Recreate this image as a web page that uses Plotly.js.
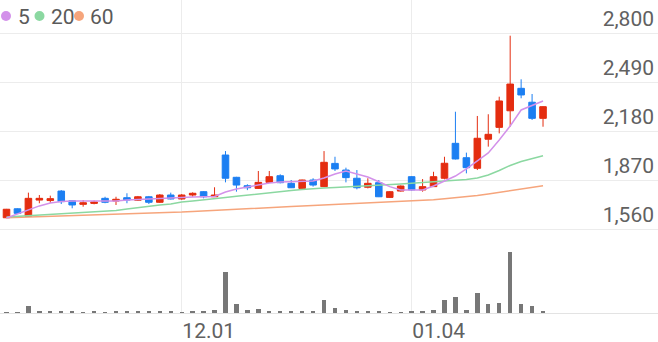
<!DOCTYPE html>
<html>
<head>
<meta charset="utf-8">
<script src="https://cdn.plot.ly/plotly-3.0.1.min.js"></script>
<style>
html,body{margin:0;padding:0;background:#fff;}
#chart{width:658px;height:342px;}
</style>
</head>
<body>
<div id="chart"></div>
<script>
// ---- data ----
const openP  = [1631,1688,1640,1743,1740,1800,1739,1716,1722,1754,1737,1758,1742,1764,1729,1775,1750,1775,1796,1764,
                2028,1887,1834,1817,1855,1897,1849,1817,1870,1828,1975,1933,1881,1824,1853,1760,1800,1891,1807,1828,
                1881,2102,2011,1944,2128,2203,2308,2450,2362,2260];
const highP  = [1687,1691,1790,1775,1771,1806,1743,1743,1740,1764,1764,1786,1769,1769,1781,1790,1781,1792,1800,1824,
                2053,1890,1843,1927,1927,1906,1870,1872,1881,2053,2017,1948,1933,1881,1870,1800,1835,1895,1876,1922,
                2017,2302,2043,2275,2286,2397,2783,2507,2414,2337];
const lowP   = [1629,1656,1638,1723,1725,1718,1691,1701,1716,1723,1712,1723,1738,1718,1725,1747,1745,1764,1754,1764,
                1855,1796,1806,1813,1851,1849,1819,1811,1828,1826,1927,1855,1811,1817,1762,1756,1797,1801,1796,1826,
                1874,2000,1912,1933,2081,2165,2207,2387,2250,2207];
const closeP = [1685,1659,1754,1754,1752,1733,1712,1726,1731,1729,1748,1743,1764,1729,1775,1750,1775,1786,1764,1775,
                1881,1838,1821,1855,1891,1853,1821,1870,1838,1982,1940,1885,1821,1849,1764,1796,1832,1807,1828,1891,
                1976,2003,1948,2134,2159,2370,2477,2408,2260,2334];
const ma5    = [1630,1655,1680,1706,1724,1734,1737,1737,1734,1734,1737,1743,1747,1750,1753,1756,1759,1762,1766,1766,
                1794,1813,1826,1838,1851,1857,1859,1859,1864,1883,1908,1927,1908,1889,1859,1828,1807,1807,1807,1832,
                1864,1895,1940,1990,2041,2123,2212,2313,2341,2370];
const ma20   = [1636,1640,1645,1649,1653,1657,1661,1666,1669,1674,1677,1687,1696,1706,1712,1718,1731,1737,1743,1752,
                1759,1767,1775,1781,1788,1796,1804,1810,1816,1819,1823,1826,1829,1833,1838,1842,1845,1849,1854,1857,
                1861,1867,1873,1883,1902,1930,1962,1987,2006,2024];
const ma60   = [1631,1633,1635,1637,1639,1642,1644,1646,1648,1650,1652,1654,1657,1659,1661,1663,1667,1671,1674,1678,
                1681,1685,1688,1692,1695,1699,1702,1706,1709,1713,1716,1719,1723,1726,1729,1732,1735,1738,1742,1745,
                1751,1757,1763,1772,1782,1792,1802,1812,1823,1833];
const volume = [8,10,74,20,17,20,17,13,17,13,20,17,20,17,17,17,13,17,20,27,
                410,87,27,43,20,20,17,17,20,127,53,33,23,17,23,13,13,17,20,33,
                127,160,33,203,93,103,610,87,70,23];
const dateTickPos  = [16, 37];
const dateTickText = ["12.01", "01.04"];
const priceTicks    = [1560, 1870, 2180, 2490, 2800];
const priceTickText = ["1,560", "1,870", "2,180", "2,490", "2,800"];
const maNames = ["5", "20", "60"];

// ---- styling ----
const RED = "#e42d10", BLUE = "#1c7ff2";
const C5 = "#d391ea", C20 = "#8bd8a1", C60 = "#f6a57c";
const W = 658, H = 342;
const xs = openP.map((_, i) => i);

const traces = [
  {type: "candlestick", x: xs, open: openP, high: highP, low: lowP, close: closeP,
   xaxis: "x", yaxis: "y", whiskerwidth: 0,
   increasing: {line: {color: RED, width: 1}, fillcolor: RED},
   decreasing: {line: {color: BLUE, width: 1}, fillcolor: BLUE},
   hoverinfo: "skip", showlegend: false},
  {type: "scatter", mode: "lines", x: xs, y: ma60, line: {color: C60, width: 1.5}, yaxis: "y", showlegend: false, hoverinfo: "skip"},
  {type: "scatter", mode: "lines", x: xs, y: ma20, line: {color: C20, width: 1.5}, yaxis: "y", showlegend: false, hoverinfo: "skip"},
  {type: "scatter", mode: "lines", x: xs, y: ma5,  line: {color: C5,  width: 1.5}, yaxis: "y", showlegend: false, hoverinfo: "skip"},
  {type: "bar", x: xs, y: volume, width: 0.4, marker: {color: "#777777"}, xaxis: "x", yaxis: "y2",
   showlegend: false, hoverinfo: "skip"}
];

// pixel helpers
const py = p => 1 - p / H;
const pxX = p => p / W;
const priceBottomPx = 232, priceGridBottom = 229, priceGridTop = 33;
const perPx = (2800 - 1560) / (priceGridBottom - priceGridTop);
const yMin = 1560 - (priceBottomPx - priceGridBottom) * perPx;
const yMax = 2800 + priceGridTop * perPx;
const volBottomPx = 313;
const vMax = 610 * (volBottomPx - priceBottomPx) / 61;

const legendDots = [6, 39.5, 79];
const legendText = [16, 49, 88];
const legendColors = [C5, C20, C60];

const layout = {
  width: W, height: H,
  margin: {l: 0, r: 0, t: 0, b: 0},
  paper_bgcolor: "#fff", plot_bgcolor: "#fff",
  showlegend: false,
  boxgap: 0.2, boxgroupgap: 0.25,
  bargap: 0,
  font: {family: "Roboto, 'Noto Sans', sans-serif", color: "#616161"},
  xaxis: {
    range: [-0.594, 59.5], anchor: "y2", domain: [0, 1],
    tickvals: dateTickPos, ticktext: dateTickText,
    showgrid: true, gridcolor: "#ececec", gridwidth: 1,
    zeroline: false, showline: true, linecolor: "#e3e3e3", linewidth: 1,
    ticks: "", tickfont: {size: 21, color: "#616161"},
    ticklabelshift: 27, ticklabelstandoff: -1,
    rangeslider: {visible: false}, fixedrange: true
  },
  yaxis: {
    domain: [py(priceBottomPx), 1], range: [yMin, yMax], side: "right", anchor: "x",
    tickvals: priceTicks, ticktext: priceTickText,
    ticklabelposition: "inside top", ticklabeloverflow: "allow",
    ticks: "", tickfont: {size: 21, color: "#616161"}, ticklabelstandoff: 1,
    showgrid: true, gridcolor: "#ececec", gridwidth: 1,
    zeroline: false, showline: false, fixedrange: true
  },
  yaxis2: {
    domain: [py(volBottomPx), py(priceBottomPx)], range: [0, vMax], anchor: "x",
    showgrid: false, zeroline: false, showticklabels: false, ticks: "", showline: false, fixedrange: true
  },
  shapes: legendDots.map((cx, i) => ({
    type: "circle", xref: "paper", yref: "paper", xsizemode: "pixel", ysizemode: "pixel",
    xanchor: pxX(cx), yanchor: py(16), x0: -5, x1: 5, y0: -5, y1: 5,
    fillcolor: legendColors[i], line: {width: 0}
  })),
  annotations: maNames.map((t, i) => ({
    text: t, xref: "paper", yref: "paper", x: pxX(legendText[i]), y: py(16.5),
    xanchor: "left", yanchor: "middle", showarrow: false,
    font: {size: 21, color: "#5a5a5a"}
  }))
};

Plotly.newPlot("chart", traces, layout, {staticPlot: true, displayModeBar: false});
</script>
</body>
</html>
